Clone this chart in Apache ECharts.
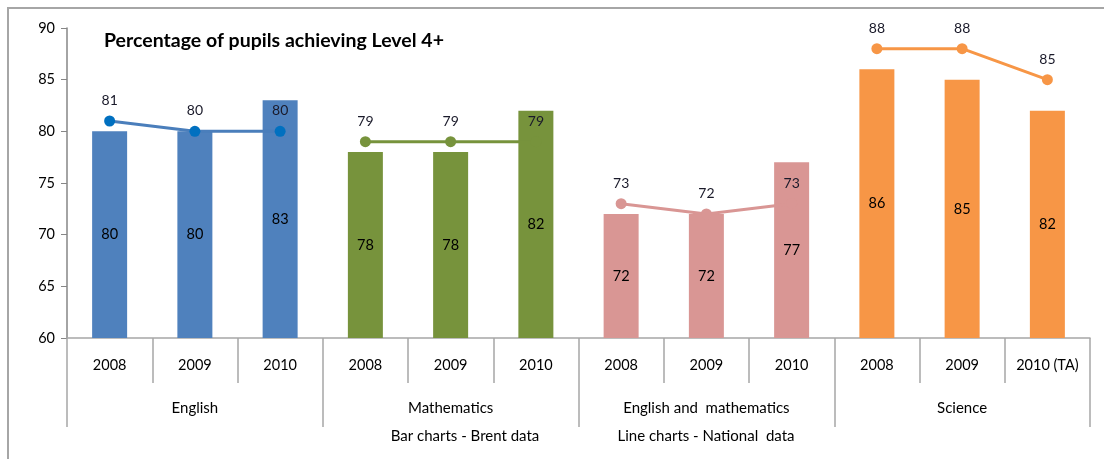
<!DOCTYPE html>
<html>
<head>
<meta charset="utf-8">
<script src="https://cdn.jsdelivr.net/npm/echarts@6/dist/echarts.min.js"></script>
<style>
  html, body { margin: 0; padding: 0; background: #fff; }
  #chart { width: 1104px; height: 459px; }
</style>
</head>
<body>
<div id="chart"></div>
<script>
// Category labels
const years = ['2008', '2009', '2010', '2008', '2009', '2010', '2008', '2009', '2010', '2008', '2009', '2010 (TA)'];
const subjects = ['English', 'Mathematics', 'English and  mathematics', 'Science'];

// Brent results (bars), three years per subject
const brentEnglish = [80, 80, 83];
const brentMaths = [78, 78, 82];
const brentEngMaths = [72, 72, 77];
const brentScience = [86, 85, 82];

// National results (lines), three years per subject
const natEnglish = [81, 80, 80];
const natMaths = [79, 79, 79];
const natEngMaths = [73, 72, 73];
const natScience = [88, 88, 85];

const brent = [brentEnglish, brentMaths, brentEngMaths, brentScience];
const national = [natEnglish, natMaths, natEngMaths, natScience];

const barColors = ['#4F81BD', '#77933C', '#D99694', '#F79646'];
const lineColors = ['#4A7EBB', '#77933C', '#D99694', '#F79646'];
const markerColors = ['#0070C0', '#77933C', '#D99694', '#F79646'];

const FONT = 'Lato, "Open Sans", sans-serif';
const GREY = '#A6A6A6';

// One bar per year, coloured by subject
const barData = [];
brent.forEach((vals, g) => {
  vals.forEach(v => barData.push({ value: v, itemStyle: { color: barColors[g] } }));
});

// One line per subject, spanning only its own three categories
const lineSeries = national.map((vals, g) => {
  const data = new Array(years.length).fill(null);
  vals.forEach((v, i) => { data[g * 3 + i] = v; });
  return {
    type: 'line',
    name: subjects[g],
    data: data,
    connectNulls: false,
    symbol: 'circle',
    symbolSize: 11,
    lineStyle: { color: lineColors[g], width: 3 },
    itemStyle: { color: markerColors[g] },
    label: {
      show: true, position: 'top', distance: 8,
      color: '#1a1a2a', fontSize: 14, fontFamily: FONT
    },
    z: 3
  };
});

const chart = echarts.init(document.getElementById('chart'));
chart.setOption({
  animation: false,
  backgroundColor: '#fff',
  title: {
    text: 'Percentage of pupils achieving Level 4+',
    left: 104, top: 31, padding: 0,
    textStyle: { fontFamily: FONT, fontSize: 19.5, fontWeight: 'bold', color: '#000' }
  },
  grid: { left: 67, right: 14, top: 28, bottom: 121, containLabel: false },
  xAxis: [
    {
      type: 'category',
      data: years,
      position: 'bottom',
      axisLine: { show: true, onZero: false, lineStyle: { color: GREY, width: 1.5 } },
      axisTick: { show: true, interval: 0, length: 45, lineStyle: { color: GREY, width: 1.5 } },
      axisLabel: { interval: 0, margin: 20, color: '#000', fontSize: 14.5, fontFamily: FONT }
    },
    {
      type: 'category',
      data: subjects,
      position: 'bottom',
      axisLine: { show: false, onZero: false },
      axisTick: { show: true, interval: 0, length: 89, lineStyle: { color: GREY, width: 1.5 } },
      axisLabel: { interval: 0, margin: 63, color: '#000', fontSize: 15, fontFamily: FONT }
    }
  ],
  yAxis: {
    type: 'value',
    min: 60, max: 90, interval: 5,
    axisLine: { show: true, lineStyle: { color: '#868686', width: 1.5 } },
    axisTick: { show: true, length: 6, lineStyle: { color: '#868686' } },
    splitLine: { show: false },
    axisLabel: { margin: 12, color: '#000', fontSize: 14.5, fontFamily: FONT }
  },
  graphic: [
    {
      type: 'rect', silent: true, z: -10,
      shape: { x: 8, y: 8, width: 1300, height: 700 },
      style: { fill: 'none', stroke: GREY, lineWidth: 2 }
    },
    {
      type: 'text', silent: true,
      style: { x: 465, y: 436, text: 'Bar charts - Brent data', align: 'center', verticalAlign: 'middle',
               font: '15px ' + FONT, fill: '#000' }
    },
    {
      type: 'text', silent: true,
      style: { x: 706, y: 436, text: 'Line charts - National  data', align: 'center', verticalAlign: 'middle',
               font: '15px ' + FONT, fill: '#000' }
    }
  ],
  series: [
    {
      type: 'bar',
      name: 'Brent',
      data: barData,
      barWidth: 35,
      label: {
        show: true, position: 'inside',
        color: '#000', fontSize: 14.5, fontFamily: FONT
      },
      z: 2
    }
  ].concat(lineSeries)
});
</script>
</body>
</html>
